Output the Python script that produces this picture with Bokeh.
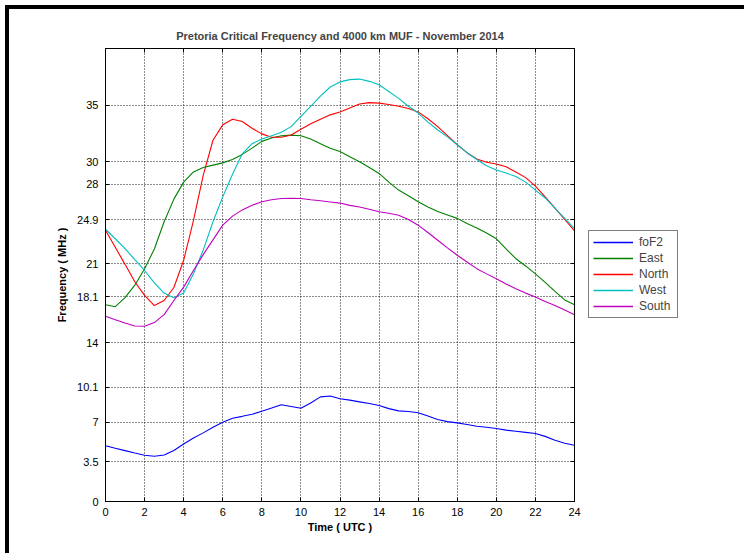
from bokeh.plotting import figure
from bokeh.layouts import row
from bokeh.models import (FixedTicker, LinearAxis, Legend, LegendItem, Range1d,
                          CustomJSTickFormatter)
from bokeh.embed import file_html
from bokeh.resources import INLINE

hours = [0, 0.5, 1, 1.5, 2, 2.5, 3, 3.5, 4, 4.5, 5, 5.5, 6, 6.5, 7, 7.5, 8, 8.5,
         9, 9.5, 10, 10.5, 11, 11.5, 12, 12.5, 13, 13.5, 14, 14.5, 15, 15.5, 16,
         16.5, 17, 17.5, 18, 18.5, 19, 19.5, 20, 20.5, 21, 21.5, 22, 22.5, 23,
         23.5, 24]

fof2 = [4.93, 4.7, 4.49, 4.28, 4.08, 3.99, 4.1, 4.5, 5.08, 5.6, 6.06, 6.55, 7.0,
        7.35, 7.52, 7.7, 7.97, 8.25, 8.54, 8.39, 8.24, 8.7, 9.24, 9.32, 9.07,
        8.95, 8.8, 8.65, 8.48, 8.2, 8.0, 7.95, 7.83, 7.55, 7.24, 7.05, 6.94, 6.8,
        6.65, 6.55, 6.44, 6.3, 6.2, 6.1, 6.0, 5.75, 5.4, 5.15, 4.96]

east = [17.37, 17.2, 18.0, 19.1, 20.56, 22.3, 24.7, 26.7, 28.2, 29.1, 29.5, 29.7,
        29.9, 30.2, 30.65, 31.2, 31.8, 32.1, 32.3, 32.35, 32.3, 32.0, 31.6, 31.2,
        30.9, 30.45, 30.0, 29.5, 28.97, 28.2, 27.5, 27.0, 26.47, 26.0, 25.6, 25.3,
        25.0, 24.55, 24.15, 23.7, 23.2, 22.3, 21.44, 20.8, 20.1, 19.35, 18.55,
        17.8, 17.37]

north = [23.95, 22.45, 20.94, 19.4, 18.2, 17.3, 17.75, 18.9, 21.3, 24.8, 28.8,
         31.9, 33.26, 33.76, 33.55, 32.96, 32.46, 32.16, 32.16, 32.37, 32.87,
         33.35, 33.76, 34.14, 34.4, 34.75, 35.1, 35.22, 35.18, 35.05, 34.9, 34.7,
         34.4, 33.8, 33.1, 32.3, 31.5, 30.8, 30.25, 29.95, 29.8, 29.55, 29.1,
         28.6, 27.85, 26.9, 25.9, 24.9, 23.9]

west = [24.04, 23.2, 22.33, 21.35, 20.4, 19.3, 18.4, 18.0, 18.4, 20.1, 22.2, 24.7,
        26.9, 28.9, 30.7, 31.6, 32.0, 32.3, 32.6, 33.1, 34.0, 34.9, 35.8, 36.6,
        37.05, 37.25, 37.3, 37.1, 36.8, 36.2, 35.6, 34.9, 34.3, 33.5, 32.8, 32.2,
        31.5, 30.8, 30.2, 29.65, 29.27, 29.0, 28.7, 28.2, 27.5, 26.8, 25.9, 25.0,
        24.1]

south = [16.36, 16.05, 15.77, 15.5, 15.48, 15.8, 16.5, 17.75, 18.93, 20.4, 21.8,
         23.1, 24.4, 25.2, 25.75, 26.15, 26.47, 26.65, 26.76, 26.78, 26.76, 26.65,
         26.55, 26.45, 26.35, 26.15, 26.0, 25.8, 25.58, 25.45, 25.28, 24.9, 24.4,
         23.75, 23.07, 22.4, 21.74, 21.15, 20.56, 20.1, 19.67, 19.2, 18.79, 18.4,
         18.05, 17.65, 17.3, 16.9, 16.48]

series_names = ["foF2", "East", "North", "West", "South"]
series_colors = ["#0000ff", "#008000", "#ff0000", "#00bfbf", "#bf00bf"]

x_ticks = [0, 2, 4, 6, 8, 10, 12, 14, 16, 18, 20, 22, 24]
y_ticks = [0, 3.5, 7, 10.1, 14, 18.1, 21, 24.9, 28, 30, 35]
y_tick_labels = ["0", "3.5", "7", "10.1", "14", "18.1", "21", "24.9", "28", "30", "35"]

FONT = "Liberation Sans"
all_series = [fof2, east, north, west, south]

p = figure(frame_width=469, frame_height=453, output_backend="svg", toolbar_location=None,
           x_range=Range1d(0, 24), y_range=Range1d(0, 40),
           min_border_left=96, min_border_right=10, min_border_top=39,
           min_border_bottom=52)

p.title.text = "Pretoria Critical Frequency and 4000 km MUF - November 2014"
p.title.align = "center"
p.title.text_font = FONT
p.title.text_font_size = "11px"
p.title.text_font_style = "bold"
p.title.standoff = 13

p.outline_line_color = "black"
p.outline_line_width = 1
p.outline_line_alpha = 1

for ax in p.xaxis + p.yaxis:
    ax.major_tick_in = 4
    ax.major_tick_out = 0
    ax.minor_tick_in = 0
    ax.minor_tick_out = 0
    ax.axis_line_color = "black"
    ax.major_tick_line_color = "black"
    ax.major_label_text_font = FONT
    ax.major_label_text_font_size = "11px"
    ax.major_label_text_color = "black"
    ax.axis_label_text_font = FONT
    ax.axis_label_text_font_size = "11px"
    ax.axis_label_text_font_style = "bold"
    ax.axis_label_text_color = "black"

p.xaxis.ticker = FixedTicker(ticks=x_ticks)
p.yaxis.ticker = FixedTicker(ticks=y_ticks)
p.yaxis.major_label_overrides = {t: l for t, l in zip(y_ticks, y_tick_labels)}
p.xaxis.axis_label = "Time ( UTC )"
p.yaxis.axis_label = "Frequency ( MHz )"
p.xaxis.major_label_standoff = 6
p.yaxis.major_label_standoff = 7
p.xaxis.axis_label_standoff = 2
p.yaxis.axis_label_standoff = 6

blank = CustomJSTickFormatter(code="return '';")
top_axis = LinearAxis(ticker=FixedTicker(ticks=x_ticks), major_tick_in=4, major_tick_out=0,
                      minor_tick_in=0, minor_tick_out=0, formatter=blank,
                      major_label_standoff=0)
right_axis = LinearAxis(ticker=FixedTicker(ticks=y_ticks), major_tick_in=4, major_tick_out=0,
                        minor_tick_in=0, minor_tick_out=0, formatter=blank,
                        major_label_standoff=0)
p.add_layout(top_axis, "above")
p.add_layout(right_axis, "right")

p.xgrid.ticker = FixedTicker(ticks=x_ticks)
p.ygrid.ticker = FixedTicker(ticks=y_ticks)
for g in (p.xgrid, p.ygrid):
    g.grid_line_color = "black"
    g.grid_line_dash = "1 2"
    g.grid_line_alpha = 0.9
    g.grid_line_width = 1

for color, vals in zip(series_colors, all_series):
    p.line(hours, vals, line_color=color, line_width=1.1)

# Legend lives in a slim companion figure to the right of the axes box;
# its proxy lines hold a single point each, so they draw nothing themselves.
leg_fig = figure(width=160, height=544, output_backend="svg", toolbar_location=None,
                 x_axis_location=None, y_axis_location=None,
                 min_border_left=0, min_border_right=0, min_border_top=0,
                 min_border_bottom=0, outline_line_color=None)
leg_fig.xgrid.visible = False
leg_fig.ygrid.visible = False

items = []
for name, color, vals in zip(series_names, series_colors, all_series):
    r = leg_fig.line(x=hours[:1], y=vals[:1], line_color=color, line_width=1.5)
    items.append(LegendItem(label=name, renderers=[r]))

legend = Legend(items=items, location=(4, 183), border_line_color="black",
                border_line_width=1, background_fill_color="white", background_fill_alpha=1,
                label_text_font=FONT, label_text_font_size="12px", glyph_width=40,
                glyph_height=12, label_height=12, label_width=34, spacing=2, padding=4,
                label_standoff=6, margin=0)
leg_fig.add_layout(legend, "center")

layout = row(p, leg_fig)
layout.styles = {"border-top": "4px solid black", "border-left": "4px solid black",
                 "margin-left": "5px", "margin-top": "5px"}

open("out.html", "w").write(file_html(layout, INLINE))
